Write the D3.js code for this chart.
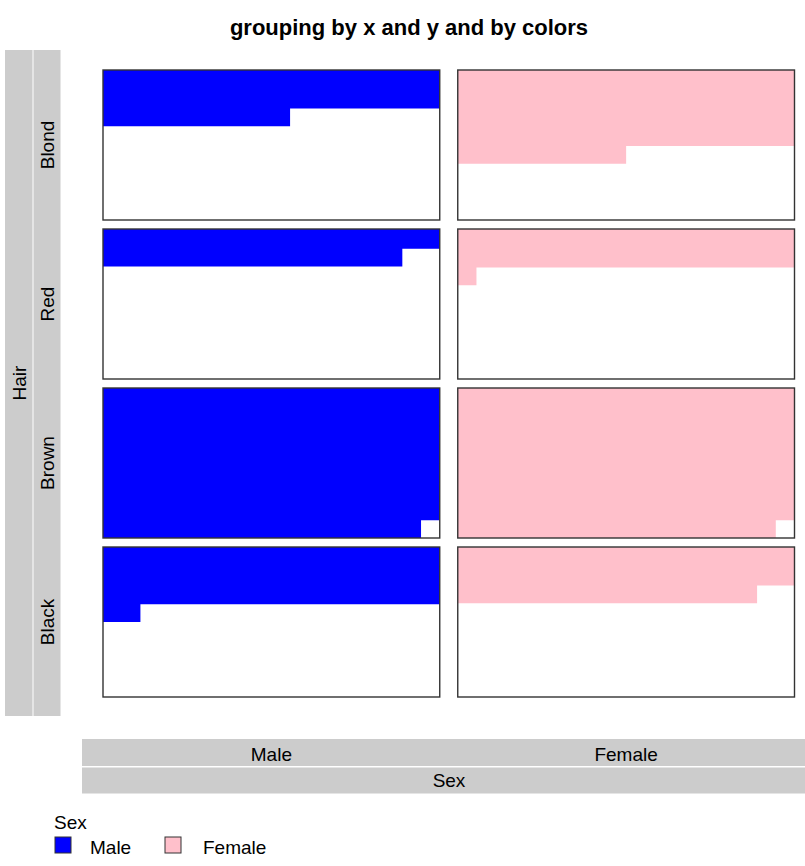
<!DOCTYPE html>
<html>
<head>
<meta charset="utf-8">
<script src="https://cdn.jsdelivr.net/npm/d3@7"></script>
<style>
  body { margin: 0; background: #fff; }
  text { font-family: "Liberation Sans", Arial, sans-serif; fill: #000; }
</style>
</head>
<body>
<div id="chart"></div>
<script>
// categorías y conteos (HairEyeColor sumado sobre Eye)
const hairLevels = ['Blond', 'Red', 'Brown', 'Black']; // de arriba a abajo
const sexLevels = ['Male', 'Female'];
const maleCounts = [46, 34, 143, 56];
const femaleCounts = [81, 37, 143, 52];
const sexColors = ['#0000ff', '#ffc0cb'];

// rejilla de cada panel: 18 columnas x 8 filas
const gridCols = 18;
const gridRows = 8;

const width = 805, height = 866;

const svg = d3.select('#chart').append('svg')
  .attr('width', width)
  .attr('height', height);

svg.append('text')
  .attr('x', 409)
  .attr('y', 35)
  .attr('text-anchor', 'middle')
  .style('font-size', '22px')
  .style('font-weight', 'bold')
  .text('grouping by x and y and by colors');

const x = d3.scaleBand().domain(sexLevels).range([103, 794.5]).paddingInner(18 / 354.5);
const y = d3.scaleBand().domain(hairLevels).range([70, 697]).paddingInner(9 / 159);

const cells = [];
hairLevels.forEach((h, i) => {
  cells.push({ hair: h, sex: 'Male', n: maleCounts[i], color: sexColors[0] });
  cells.push({ hair: h, sex: 'Female', n: femaleCounts[i], color: sexColors[1] });
});

const panel = svg.selectAll('g.panel')
  .data(cells)
  .join('g')
  .attr('class', 'panel')
  .attr('transform', d => `translate(${x(d.sex)},${y(d.hair)})`);

const cx = d3.scaleLinear().domain([0, gridCols]).range([0, x.bandwidth()]);
const cy = d3.scaleLinear().domain([0, gridRows]).range([0, y.bandwidth()]);

// segmentos por fila: filas completas y la fila parcial
panel.each(function(d) {
  const rows = [];
  const full = Math.floor(d.n / gridCols);
  for (let r = 0; r < full; r++) rows.push({ row: r, k: gridCols });
  if (d.n % gridCols > 0) rows.push({ row: full, k: d.n % gridCols });
  const last = rows.length - 1;
  d3.select(this).selectAll('rect.cell')
    .data(rows)
    .join('rect')
    .attr('class', 'cell')
    .attr('x', cx(0))
    .attr('y', r => cy(r.row))
    .attr('width', r => cx(r.k))
    .attr('height', (r, i) => cy(r.row + 1) - cy(r.row) + (i < last ? 1 : 0))
    .attr('fill', d.color);
});

panel.append('rect')
  .attr('width', x.bandwidth())
  .attr('height', y.bandwidth())
  .attr('fill', 'none')
  .attr('stroke', '#333')
  .attr('stroke-width', 1.4);

// tiras izquierdas
const stripFill = '#cccccc';
svg.append('rect').attr('x', 5).attr('y', 50).attr('width', 27.5).attr('height', 666).attr('fill', stripFill);
svg.append('rect').attr('x', 33.5).attr('y', 50).attr('width', 27).attr('height', 666).attr('fill', stripFill);
svg.append('text')
  .attr('transform', 'translate(26,383) rotate(-90)')
  .attr('text-anchor', 'middle')
  .style('font-size', '19px')
  .text('Hair');
svg.selectAll('text.hair')
  .data(hairLevels)
  .join('text')
  .attr('class', 'hair')
  .attr('transform', d => `translate(53.5,${y(d) + y.bandwidth() / 2}) rotate(-90)`)
  .attr('text-anchor', 'middle')
  .style('font-size', '19px')
  .text(d => d);

// tiras inferiores
svg.append('rect').attr('x', 82).attr('y', 739).attr('width', 723).attr('height', 27).attr('fill', stripFill);
svg.append('rect').attr('x', 82).attr('y', 767.5).attr('width', 723).attr('height', 26).attr('fill', stripFill);
svg.selectAll('text.sex')
  .data(sexLevels)
  .join('text')
  .attr('class', 'sex')
  .attr('x', d => x(d) + x.bandwidth() / 2)
  .attr('y', 761)
  .attr('text-anchor', 'middle')
  .style('font-size', '19px')
  .text(d => d);
svg.append('text')
  .attr('x', 449)
  .attr('y', 787)
  .attr('text-anchor', 'middle')
  .style('font-size', '19px')
  .text('Sex');

// leyenda
const legend = svg.append('g');
legend.append('text').attr('x', 54).attr('y', 829).style('font-size', '19px').text('Sex');
const boxX = [55, 165];
const labelX = [90, 203];
legend.selectAll('rect.key')
  .data(sexLevels)
  .join('rect')
  .attr('class', 'key')
  .attr('x', (d, i) => boxX[i])
  .attr('y', 837)
  .attr('width', 16)
  .attr('height', 16)
  .attr('fill', (d, i) => sexColors[i])
  .attr('stroke', '#333')
  .attr('stroke-width', 1);
legend.selectAll('text.key')
  .data(sexLevels)
  .join('text')
  .attr('class', 'key')
  .attr('x', (d, i) => labelX[i])
  .attr('y', 854)
  .style('font-size', '19px')
  .text(d => d);
</script>
</body>
</html>
